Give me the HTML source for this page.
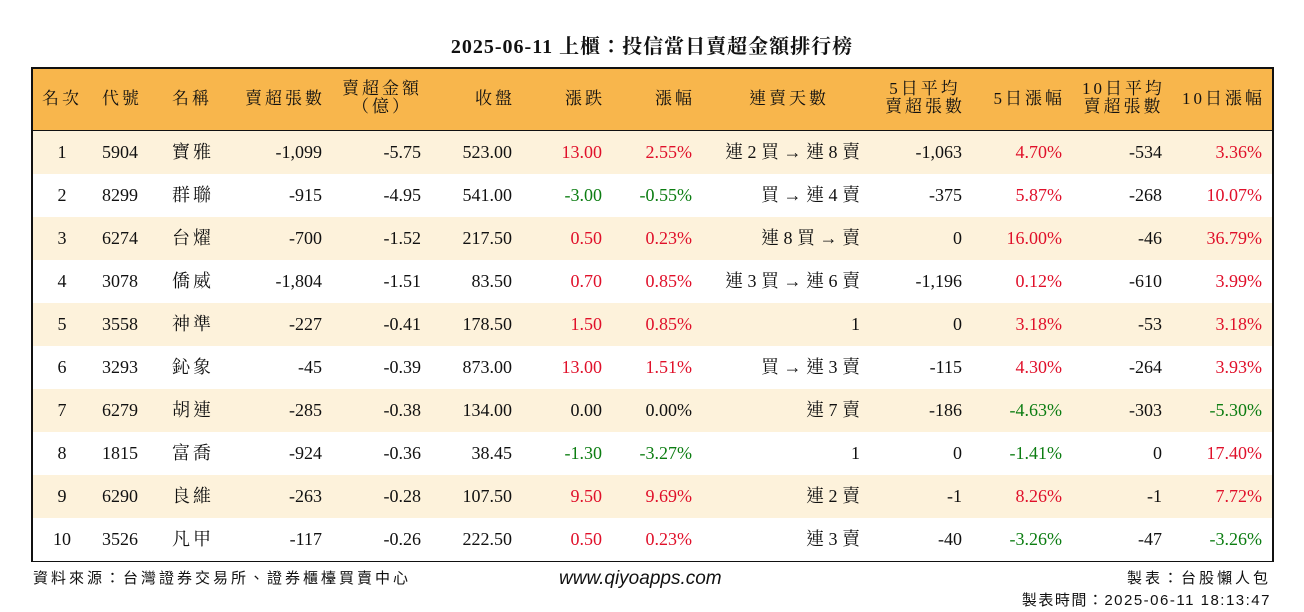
<!DOCTYPE html>
<html><head><meta charset="utf-8"><style>
body{margin:0;width:1304px;height:612px;background:#fff;position:relative;font-family:"Liberation Serif","Noto Serif CJK TC","Noto Serif CJK SC",serif;color:#111;overflow:hidden}
.t{position:absolute;white-space:nowrap}
#title{left:0;width:1304px;top:30px;text-align:center;font-size:20px;font-weight:bold;letter-spacing:1px}
#tbl{position:absolute;left:31px;top:67px;width:1239px;height:491px;border:2px solid #111}
#hdr{position:absolute;left:0;top:0;width:1239px;height:61px;background:#F8B64C;border-bottom:2px solid #111}
.row{position:absolute;left:0;width:1239px;height:43px}
.c{position:absolute;white-space:nowrap;font-size:18px;line-height:20px}
.cj{letter-spacing:3px}
.h{font-size:17px;line-height:18px;letter-spacing:3px}
.r{color:#E0102A}.g{color:#0C7D12}
.foot{position:absolute;font-family:"Liberation Sans","Noto Sans CJK TC",sans-serif;font-size:15px;letter-spacing:3px}
</style></head><body>
<div class="t" id="title">2025-06-11 上櫃：投信當日賣超金額排行榜</div>
<div id="tbl">
<div id="hdr"></div>
</div>
<div class="t foot" style="left:33px;top:567px">資料來源：台灣證券交易所、證券櫃檯買賣中心</div>
<div class="t" style="left:559px;top:568px;font-family:'Liberation Sans',sans-serif;font-style:italic;font-size:19px">www.qiyoapps.com</div>
<div class="t foot" style="right:33px;top:567px">製表：台股懶人包</div>
<div class="t foot" style="right:33px;top:589px;letter-spacing:1.5px">製表時間：2025-06-11 18:13:47</div>
<script>
const ranks=["1","2","3","4","5","6","7","8","9","10"];
const codes=["5904","8299","6274","3078","3558","3293","6279","1815","6290","3526"];
const names=["寶雅","群聯","台燿","僑威","神準","鈊象","胡連","富喬","良維","凡甲"];
const sellQty=["-1,099","-915","-700","-1,804","-227","-45","-285","-924","-263","-117"];
const sellAmt=["-5.75","-4.95","-1.52","-1.51","-0.41","-0.39","-0.38","-0.36","-0.28","-0.26"];
const closes=["523.00","541.00","217.50","83.50","178.50","873.00","134.00","38.45","107.50","222.50"];
const changes=["13.00","-3.00","0.50","0.70","1.50","13.00","0.00","-1.30","9.50","0.50"];
const pcts=["2.55%","-0.55%","0.23%","0.85%","0.85%","1.51%","0.00%","-3.27%","9.69%","0.23%"];
const streaks=["連 2 買 → 連 8 賣","買 → 連 4 賣","連 8 買 → 賣","連 3 買 → 連 6 賣","1","買 → 連 3 賣","連 7 賣","1","連 2 賣","連 3 賣"];
const avg5=["-1,063","-375","0","-1,196","0","-115","-186","0","-1","-40"];
const pct5=["4.70%","5.87%","16.00%","0.12%","3.18%","4.30%","-4.63%","-1.41%","8.26%","-3.26%"];
const avg10=["-534","-268","-46","-610","-53","-264","-303","0","-1","-47"];
const pct10=["3.36%","10.07%","36.79%","3.99%","3.18%","3.93%","-5.30%","17.40%","7.72%","-3.26%"];
const headers=[["名次"],["代號"],["名稱"],["賣超張數"],["賣超金額","（億）"],["收盤"],["漲跌"],["漲幅"],["連賣天數"],["5日平均","賣超張數"],["5日漲幅"],["10日平均","賣超張數"],["10日漲幅"]];
const cols=[["c",29],["l",69],["l",139],["r",289],["r",388],["r",479],["r",569],["r",659],["r",827],["r",929],["r",1029],["r",1129],["r",1229]];
const hcols=[["l",9],["l",69],["l",139],["r",289],["c",349],["r",479],["r",569],["r",659],["r",793],["r",929],["r",1029],["r",1129],["r",1229]];
const tbl=document.getElementById('tbl');
function col(v){if(v.startsWith('-'))return 'g';return parseFloat(v)>0?'r':'';}
function place(d,t,x){
  if(t==='c'){d.style.left=(x-60)+'px';d.style.width='120px';d.style.textAlign='center';}
  else if(t==='l'){d.style.left=x+'px';}
  else{d.style.right=(1239-x-3)+'px';}
}
headers.forEach((h,i)=>{
  const d=document.createElement('div');
  d.className='c h';
  
  
  const [t,x]=hcols[i];
  place(d,t,x);
  if(h.length>1&&t==='r'){d.style.textAlign='center';}
  d.style.top=(h.length>1?11:21)+'px';
  d.innerHTML=h.join('<br>');
  tbl.appendChild(d);
});
for(let r=0;r<ranks.length;r++){
  const row=document.createElement('div');
  row.className='row';
  
  
  row.style.top=(62+r*43)+'px';
  row.style.background=r%2===0?'#FDF2DB':'#fff';
  tbl.appendChild(row);
  const vals=[ranks[r],codes[r],names[r],sellQty[r],sellAmt[r],closes[r],changes[r],pcts[r],streaks[r],avg5[r],pct5[r],avg10[r],pct10[r]];
  vals.forEach((v,i)=>{
    const d=document.createElement('div');
    d.className='c';
    
    
    d.textContent=v;
    const [t,x]=cols[i];
    if(i===2){d.classList.add('cj');}
    place(d,t,x);
    if(t==='r')d.style.right=(1239-x)+'px';
    d.style.top='11px';
    if([6,7,10,12].includes(i)){const c=col(v);if(c)d.classList.add(c);}
    row.appendChild(d);
  });
}
</script>
</body></html>
